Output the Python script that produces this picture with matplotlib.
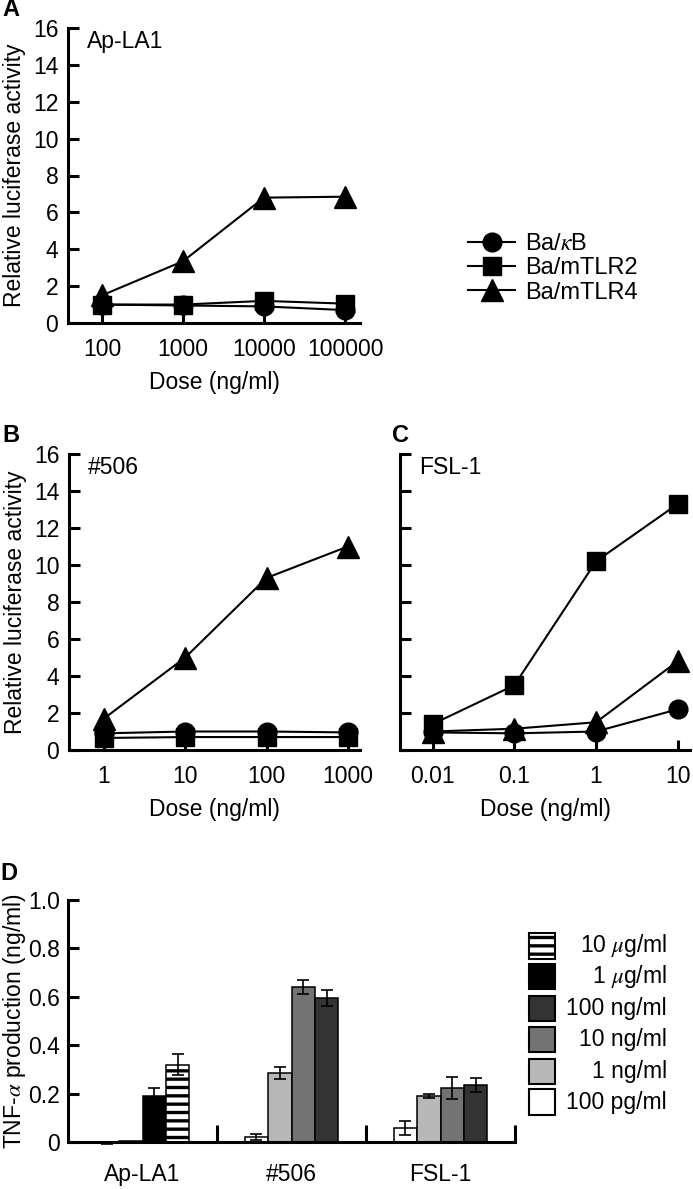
import numpy as np
import matplotlib.pyplot as plt
from matplotlib.lines import Line2D
from matplotlib.patches import Rectangle

plt.rcParams['font.family'] = ['Liberation Sans', 'DejaVu Sans']
plt.rcParams['mathtext.fontset'] = 'stix'
plt.rcParams['hatch.linewidth'] = 2.4

FS = 16.5

# ---- data: luciferase panels
series = ['Ba/$\\kappa$B', 'Ba/mTLR2', 'Ba/mTLR4']
markers = ['o', 's', '^']
msizes = [13.5, 13.5, 15.5]

dose_a = [100, 1000, 10000, 100000]
dose_a_lbl = ['100', '1000', '10000', '100000']
a_kb = [1.0, 0.95, 0.9, 0.7]
a_tlr2 = [1.0, 1.0, 1.2, 1.05]
a_tlr4 = [1.5, 3.35, 6.8, 6.85]

dose_b = [1, 10, 100, 1000]
dose_b_lbl = ['1', '10', '100', '1000']
b_kb = [0.9, 1.0, 1.0, 0.95]
b_tlr2 = [0.65, 0.7, 0.7, 0.7]
b_tlr4 = [1.7, 5.0, 9.3, 11.0]

dose_c = [0.01, 0.1, 1, 10]
dose_c_lbl = ['0.01', '0.1', '1', '10']
c_kb = [0.95, 0.9, 1.0, 2.2]
c_tlr2 = [1.4, 3.5, 10.2, 13.3]
c_tlr4 = [1.0, 1.15, 1.5, 4.8]

# ---- data: TNF-alpha bars
groups = ['Ap-LA1', '#506', 'FSL-1']
dose_names = ['10 $\\mu$g/ml', '1 $\\mu$g/ml', '100 ng/ml', '10 ng/ml', '1 ng/ml', '100 pg/ml']
dose_colors = ['white', 'black', '#333333', '#737373', '#b8b8b8', 'white']
dose_hatch = ['--', None, None, None, None, None]
# per group: which doses (index into dose_names), values, errors
grp_doses = [[3, 2, 1, 0], [5, 4, 3, 2], [5, 4, 3, 2]]
grp_vals = [[-0.005, 0.004, 0.19, 0.32],
            [0.02, 0.285, 0.64, 0.595],
            [0.058, 0.19, 0.222, 0.235]]
grp_err = [[0.003, 0.0, 0.035, 0.045],
           [0.013, 0.025, 0.03, 0.035],
           [0.028, 0.007, 0.045, 0.03]]

W, H = 693, 1189
fig = plt.figure(figsize=(W / 100, H / 100), dpi=100)


def frac(l, t, r, b):
    return [l / W, 1 - b / H, (r - l) / W, (b - t) / H]


def line_panel(rect, doses, dlbl, kb, tlr2, tlr4, name, ylab, lo, hi):
    ax = fig.add_axes(rect)
    for vals, m, ms in zip([kb, tlr2, tlr4], markers, msizes):
        ax.plot(doses, vals, color='black', lw=1.5, marker=m, ms=ms,
                mfc='black', mec='black', clip_on=False, zorder=3)
    ax.set_xscale('log')
    ax.set_xlim(doses[0] * 10 ** (-lo), doses[-1] * 10 ** hi)
    ax.set_xticks(doses)
    ax.set_xticklabels(dlbl)
    ax.minorticks_off()
    ax.set_ylim(0, 16)
    ax.set_yticks(range(0, 17, 2))
    if not ylab:
        ax.set_yticklabels([])
    else:
        ax.set_ylabel('Relative luciferase activity', fontsize=FS, labelpad=5)
    ax.set_xlabel('Dose (ng/ml)', fontsize=FS, labelpad=7)
    for s in ['top', 'right']:
        ax.spines[s].set_visible(False)
    for s in ['left', 'bottom']:
        ax.spines[s].set_linewidth(2.2)
    ax.tick_params(axis='y', direction='in', length=8, width=2.2, labelsize=FS, pad=7)
    ax.tick_params(axis='x', direction='in', length=7, width=2.2, labelsize=FS, pad=11)
    ax.text(0.065, 0.955, name, transform=ax.transAxes, fontsize=FS, va='center')
    return ax


axA = line_panel(frac(68, 28, 360, 323), dose_a, dose_a_lbl, a_kb, a_tlr2, a_tlr4,
                 'Ap-LA1', True, 0.42, 0.185)
axB = line_panel(frac(69, 454, 360, 750), dose_b, dose_b_lbl, b_kb, b_tlr2, b_tlr4,
                 '#506', True, 0.43, 0.15)
axC = line_panel(frac(400, 454, 690, 750), dose_c, dose_c_lbl, c_kb, c_tlr2, c_tlr4,
                 'FSL-1', False, 0.40, 0.15)

# legend for luciferase panels
handles = [Line2D([0], [0], color='black', lw=1.5, marker=m, ms=ms, mfc='black', mec='black')
           for m, ms in zip(markers, msizes)]
fig.legend(handles, series, loc='upper left', bbox_to_anchor=(468 / W, 1 - 233 / H),
           frameon=False, fontsize=FS + 0.5, handlelength=2.0, handletextpad=0.4,
           labelspacing=0.1, borderpad=0, borderaxespad=0)

# ---- panel D
axD = fig.add_axes(frac(68, 900, 515, 1142))
bw = 0.157
offs = (np.arange(4) - 1.5) * bw
for gi in range(len(groups)):
    for k, di in enumerate(grp_doses[gi]):
        axD.bar(gi + offs[k], grp_vals[gi][k], width=bw, color=dose_colors[di],
                edgecolor='black', linewidth=1.1, hatch=dose_hatch[di], zorder=2)
        if grp_err[gi][k] > 0:
            axD.errorbar(gi + offs[k], grp_vals[gi][k], yerr=grp_err[gi][k], fmt='none',
                         ecolor='black', elinewidth=1.2, capsize=4.5, capthick=1.2,
                         zorder=5, clip_on=False)
axD.set_xlim(-0.5, 2.5)
axD.set_ylim(0, 1.0)
axD.set_yticks([0, 0.2, 0.4, 0.6, 0.8, 1.0])
axD.set_yticklabels(['0', '0.2', '0.4', '0.6', '0.8', '1.0'])
axD.set_xticks([0.5, 1.5, 2.5])
axD.set_xticklabels([])
axD.set_xticks(range(len(groups)), minor=True)
axD.set_xticklabels(groups, minor=True)
axD.tick_params(axis='x', which='major', direction='in', length=12, width=2.2)
axD.tick_params(axis='x', which='minor', length=0, labelsize=FS, pad=15)
axD.tick_params(axis='y', direction='in', length=8, width=2.2, labelsize=FS, pad=6)
axD.set_ylabel('TNF-$\\alpha$ production (ng/ml)', fontsize=FS, labelpad=0)
for s in ['top', 'right']:
    axD.spines[s].set_visible(False)
for s in ['left', 'bottom']:
    axD.spines[s].set_linewidth(2.2)
axD.spines['bottom'].set_zorder(4)

# legend for panel D (boxes stacked, text right-aligned)
leg_y = [0.81, 0.684, 0.552, 0.424, 0.293, 0.165]
for i, name in enumerate(dose_names):
    axD.add_patch(Rectangle((1.031, leg_y[i] - 0.052), 0.058, 0.104, transform=axD.transAxes,
                            facecolor=dose_colors[i], edgecolor='black', linewidth=1.5,
                            hatch=dose_hatch[i], clip_on=False))
    axD.text(1.34, leg_y[i], name, transform=axD.transAxes, ha='right', va='center', fontsize=FS)

# panel letters
for lbl, x, y in [('A', 2, 10), ('B', 2, 436), ('C', 392, 436), ('D', 0, 873)]:
    fig.text(x / W, 1 - y / H, lbl, fontsize=17, fontweight='bold', va='center', ha='left')

fig.savefig('out.png', dpi=100)
